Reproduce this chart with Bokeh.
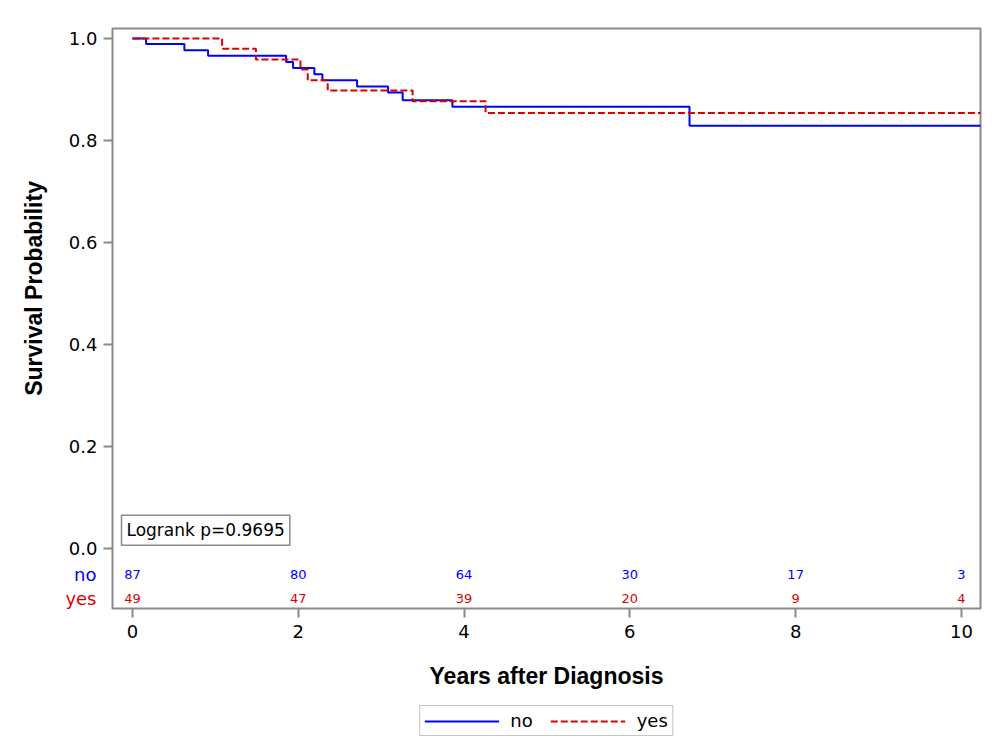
import math
from bokeh.plotting import figure
from bokeh.layouts import column
from bokeh.models import (Range1d, FixedTicker, NumeralTickFormatter, Label,
                          Legend, LegendItem, ColumnDataSource)
from bokeh.core.properties import value
from bokeh.embed import file_html
from bokeh.resources import INLINE

# ---- data ----
groups = ["no", "yes"]
group_colors = ["#0000ff", "#dd0000"]
group_dashes = ["solid", "7 3"]

no_times = [0.0, 0.165, 0.627, 0.913, 1.854, 1.938, 2.195, 2.292, 2.71, 3.084, 3.26, 3.86, 6.72]
no_surv = [1.0, 0.989, 0.977, 0.966, 0.954, 0.942, 0.930, 0.918, 0.906, 0.894, 0.879, 0.866, 0.829]
yes_times = [0.0, 1.082, 1.49, 2.027, 2.115, 2.356, 3.38, 4.26]
yes_surv = [1.0, 0.980, 0.959, 0.939, 0.918, 0.898, 0.877, 0.854]
last_followup = 10.3

risk_times = [0, 2, 4, 6, 8, 10]
risk_no = [87, 80, 64, 30, 17, 3]
risk_yes = [49, 47, 39, 20, 9, 4]
risk_rows_y = [-0.051, -0.098]

x_ticks = [0, 2, 4, 6, 8, 10]
y_ticks = [0.0, 0.2, 0.4, 0.6, 0.8, 1.0]
logrank_text = "Logrank p=0.9695"
x_title = "Years after Diagnosis"
y_title = "Survival Probability"

TICK_FONT = "DejaVu Sans"
TITLE_FONT = "Liberation Sans"
GRAY = "#8a8a8a"


def step_xy(t, s, end):
    xs, ys = [], []
    for i in range(len(t)):
        xs.append(t[i]); ys.append(s[i])
        nxt = t[i + 1] if i + 1 < len(t) else end
        xs.append(nxt); ys.append(s[i])
    return xs, ys


x0, x1 = -0.24, 10.23
y0, y1 = -0.1176, 1.0196
FRAME_W = 868
px_per_year = FRAME_W / (x1 - x0)


def x_at_pixel_from_frame_left(dx):
    return x0 + dx / px_per_year


p = figure(frame_width=FRAME_W, frame_height=580, x_range=Range1d(x0, x1), y_range=Range1d(y0, y1),
           output_backend="svg", toolbar_location=None,
           min_border_left=112, min_border_right=4, min_border_top=28, min_border_bottom=86)
p.background_fill_color = "white"
p.border_fill_color = "white"
p.grid.visible = False
p.outline_line_color = GRAY
p.outline_line_width = 2

p.xaxis.ticker = FixedTicker(ticks=x_ticks)
p.yaxis.ticker = FixedTicker(ticks=y_ticks)
p.yaxis.formatter = NumeralTickFormatter(format="0.0")
for ax in (p.xaxis[0], p.yaxis[0]):
    ax.axis_line_color = None
    ax.major_tick_line_color = GRAY
    ax.major_tick_line_width = 2
    ax.major_tick_out = 9
    ax.major_tick_in = 0
    ax.minor_tick_line_color = None
    ax.major_label_text_font = TICK_FONT
    ax.major_label_text_font_size = "18px"
    ax.major_label_text_color = "black"
p.yaxis.major_label_standoff = 6
p.xaxis.major_label_standoff = 7
p.xaxis.axis_label = x_title
p.xaxis.axis_label_text_font = TITLE_FONT
p.xaxis.axis_label_text_font_style = "bold"
p.xaxis.axis_label_text_font_size = "23px"
p.xaxis.axis_label_standoff = 22
p.xaxis.axis_label_text_color = "black"

# y title (side panel so it is not clipped to the frame)
p.add_layout(Label(x=x_at_pixel_from_frame_left(33 - 112), y=0.51, text=y_title, angle=math.pi / 2,
                   text_align="center", text_baseline="middle", text_font=TITLE_FONT,
                   text_font_style="bold", text_font_size="23px", text_color="black"), "left")

# row labels of the at-risk table (placed in side panels; positioned by data coords)
for lab, yv, col, side in zip(groups, risk_rows_y, group_colors, ["above", "left"]):
    p.add_layout(Label(x=x_at_pixel_from_frame_left(96 - 112), y=yv, text=lab, text_align="right",
                       text_baseline="middle", text_color=col, text_font=TICK_FONT,
                       text_font_size="18px"), side)

# curves
nx, ny = step_xy(no_times, no_surv, last_followup)
yx, yy = step_xy(yes_times, yes_surv, last_followup)
curves = [(nx, ny), (yx, yy)]
for (cx, cy), col, dash in zip(curves, group_colors, group_dashes):
    p.line(cx, cy, line_color=col, line_width=2, line_dash=dash)

# at-risk numbers
for vals, yv, col in zip([risk_no, risk_yes], risk_rows_y, group_colors):
    src = ColumnDataSource(dict(x=risk_times, y=[yv] * len(risk_times), t=[str(v) for v in vals]))
    p.text(x="x", y="y", text="t", source=src, text_align="center", text_baseline="middle",
           text_color=col, text_font=value(TICK_FONT), text_font_size="13px")

# logrank box
p.add_layout(Label(x=x_at_pixel_from_frame_left(121 - 112), y=0.036, text=logrank_text,
                   text_align="left", text_baseline="middle",
                   text_font=TICK_FONT, text_font_size="17px", text_color="black",
                   border_line_color=GRAY, border_line_width=1.5, background_fill_color="white",
                   padding=5))

# legend strip below the chart (same frame width; the curves are repeated off-range
# only so the legend can draw their line styles)
leg = figure(width=984, height=56, output_backend="svg", toolbar_location=None,
             x_axis_location=None, y_axis_location=None,
             min_border_left=112, min_border_right=4, min_border_top=0, min_border_bottom=0,
             x_range=Range1d(-30, -20), y_range=Range1d(-30, -20))
leg.outline_line_color = None
leg.grid.visible = False
leg.background_fill_color = "white"
leg.border_fill_color = "white"
items = []
for lab, (cx, cy), col, dash in zip(groups, curves, group_colors, group_dashes):
    r = leg.line(cx, cy, line_color=col, line_width=2, line_dash=dash)
    items.append(LegendItem(label=lab, renderers=[r]))
legend = Legend(items=items, orientation="horizontal", location="top_center",
                label_text_font=TICK_FONT, label_text_font_size="18px", label_text_color="black",
                glyph_width=75, glyph_height=16, label_height=16, label_standoff=11,
                spacing=18, padding=4, margin=11,
                border_line_color=GRAY, border_line_width=1.5, background_fill_color="white")
leg.add_layout(legend, "center")

open("out.html", "w").write(file_html(column(p, leg, spacing=0), INLINE))
